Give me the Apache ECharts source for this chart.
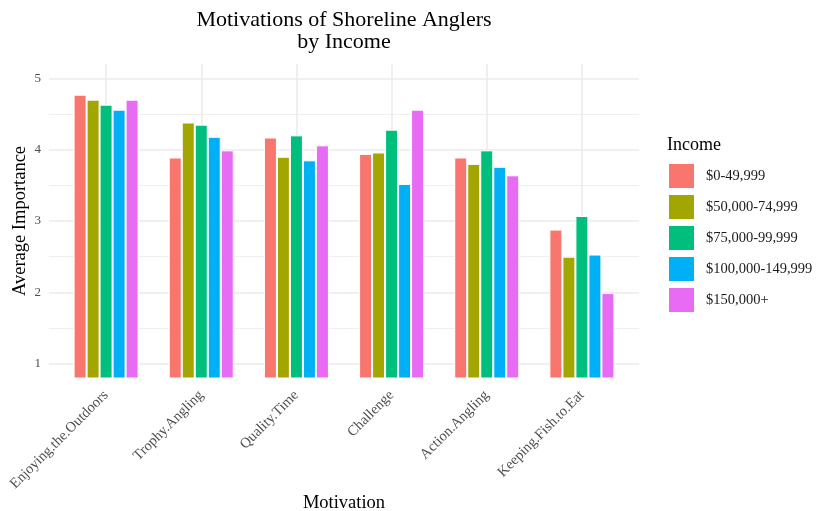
<!DOCTYPE html>
<html>
<head>
<meta charset="utf-8">
<script src="https://cdn.jsdelivr.net/npm/echarts@6/dist/echarts.min.js"></script>
<style>html,body{margin:0;padding:0;background:#fff}#c{width:817px;height:511px}</style>
</head>
<body>
<div id="c"></div>
<script>
const categories = ['Enjoying.the.Outdoors','Trophy.Angling','Quality.Time','Challenge','Action.Angling','Keeping.Fish.to.Eat'];
const incomeGroups = ['$0-49,999','$50,000-74,999','$75,000-99,999','$100,000-149,999','$150,000+'];
const inc0_49 = [4.77, 3.89, 4.17, 3.94, 3.89, 2.88];
const inc50_74 = [4.70, 4.38, 3.90, 3.96, 3.80, 2.50];
const inc75_99 = [4.63, 4.35, 4.20, 4.28, 3.99, 3.07];
const inc100_149 = [4.56, 4.18, 3.85, 3.52, 3.76, 2.53];
const inc150p = [4.70, 3.99, 4.06, 4.56, 3.64, 1.99];
const yTickLabels = [1, 2, 3, 4, 5];
const majorGrid = [1, 2, 3, 4, 5];
const minorGrid = [1.5, 2.5, 3.5, 4.5];
const colors = ['#F8766D', '#A3A500', '#00BF7D', '#00B0F6', '#E76BF3'];
const seriesValues = [inc0_49, inc50_74, inc75_99, inc100_149, inc150p];

const serif = 'Liberation Serif';
const chart = echarts.init(document.getElementById('c'), null, {renderer: 'canvas'});

const barSeries = incomeGroups.map((name, i) => ({
  name: name,
  type: 'bar',
  xAxisIndex: 1,
  yAxisIndex: 1,
  data: seriesValues[i],
  barWidth: 13,
  barGap: '0%',
  z: 3,
  itemStyle: {color: colors[i], borderColor: '#ffffff', borderWidth: 1},
  emphasis: {disabled: true},
  animation: false
}));

const mk = (data, width) => ({
  silent: true, z: 1, symbol: ['none', 'none'], label: {show: false}, animation: false,
  emphasis: {disabled: true},
  lineStyle: {color: '#ebebeb', width: width, type: 'solid'},
  data: data
});

const option = {
  animation: false,
  title: [
    {text: 'Motivations of Shoreline Anglers\nby Income', left: 344, top: 9, textAlign: 'center', padding: 0,
     textStyle: {fontFamily: serif, fontSize: 22, fontWeight: 'normal', color: '#000', lineHeight: 22}},
    {text: 'Income', left: 667, top: 136, padding: 0,
     textStyle: {fontFamily: serif, fontSize: 18, fontWeight: 'normal', color: '#000'}}
  ],
  legend: {
    data: incomeGroups,
    orient: 'vertical',
    left: 667,
    top: 162,
    padding: 0,
    icon: 'rect',
    itemWidth: 27,
    itemHeight: 26,
    itemGap: 3,
    selectedMode: false,
    textStyle: {fontFamily: serif, fontSize: 14.5, color: '#1a1a1a', padding: [0, 0, 0, 6]}
  },
  grid: [
    {left: 49, right: 178, top: 64, bottom: 133},
    {left: 58.5, right: 187.5, top: 64, bottom: 133}
  ],
  xAxis: [
    {type: 'value', gridIndex: 0, min: 0, max: 1, show: false},
    {type: 'category', gridIndex: 1, data: categories, boundaryGap: true,
     axisLine: {show: false}, axisTick: {show: false}, splitLine: {show: false},
     axisLabel: {rotate: 45, fontFamily: serif, fontSize: 14.5, color: '#4d4d4d', margin: 15, interval: 0}}
  ],
  yAxis: [
    {type: 'value', gridIndex: 0, min: 0.8, max: 5.2,
     axisLine: {show: false}, axisTick: {show: false}, splitLine: {show: false},
     axisLabel: {customValues: yTickLabels, fontFamily: serif, fontSize: 13, color: '#4d4d4d', margin: 8}},
    {type: 'value', gridIndex: 1, min: 0.8, max: 5.2, show: false, splitLine: {show: false}}
  ],
  graphic: [
    {type: 'text', x: 20, y: 221, rotation: Math.PI / 2,
     style: {text: 'Average Importance', fontFamily: serif, fontSize: 18.5, fill: '#000', align: 'center', verticalAlign: 'middle'}},
    {type: 'text', x: 344, y: 503,
     style: {text: 'Motivation', fontFamily: serif, fontSize: 18.5, fill: '#000', align: 'center', verticalAlign: 'middle'}}
  ],
  series: [
    {type: 'line', xAxisIndex: 0, yAxisIndex: 0, data: [], z: 1, silent: true, markLine: mk(minorGrid.map(v => ({yAxis: v})), 0.8)},
    {type: 'line', xAxisIndex: 0, yAxisIndex: 0, data: [], z: 1, silent: true, markLine: mk(majorGrid.map(v => ({yAxis: v})), 1.6)},
    {type: 'line', xAxisIndex: 1, yAxisIndex: 1, data: [], z: 1, silent: true, markLine: mk(categories.map(c => ({xAxis: c})), 1.6)}
  ].concat(barSeries)
};
chart.setOption(option);
</script>
</body>
</html>
